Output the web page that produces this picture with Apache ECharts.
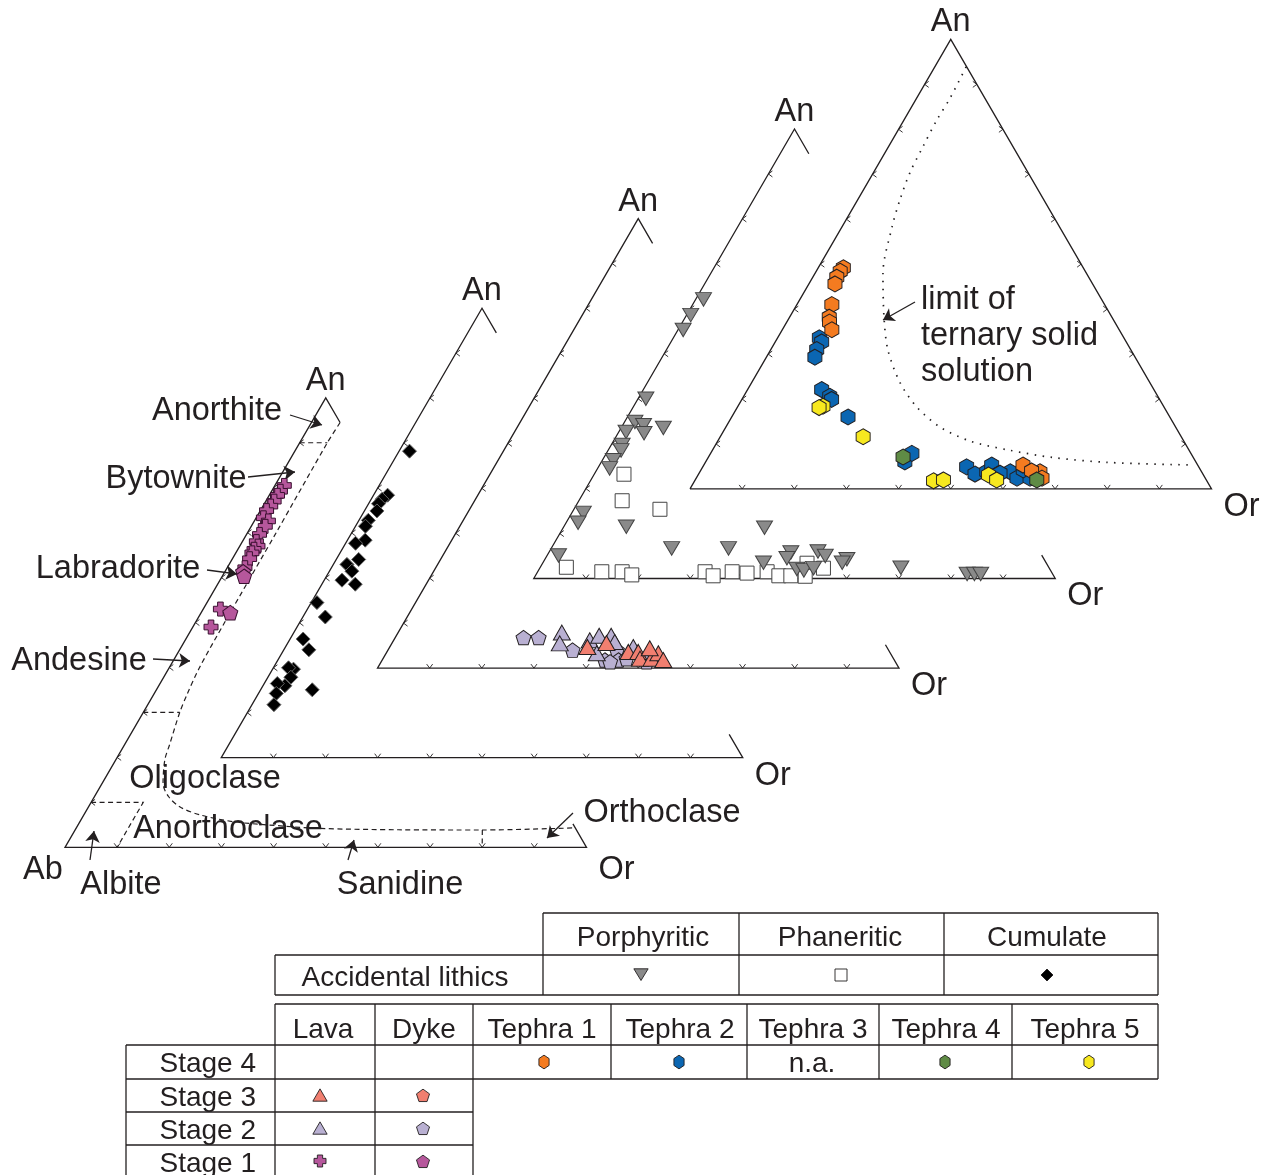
<!DOCTYPE html>
<html><head><meta charset="utf-8">
<script src="https://cdn.jsdelivr.net/npm/echarts@6/dist/echarts.min.js"></script>
<style>html,body{margin:0;padding:0;background:#fff}#c{width:1265px;height:1175px}</style>
</head><body><div id="c"></div>
<script>
// ---------- DATA: [An %, Or %] (Ab = remainder) ----------
// Triangle 1 (front): Stage 1
const stage1Lava = [[80.5,1.8],[79.2,1.7],[78.3,1.6],[77.0,1.6],[75.9,1.5],[74.9,1.2],[73.3,1.4],[72.6,2.7],[71.4,2.7],[69.6,2.5],[68.0,2.7],[67.0,3.5],[66.3,3.1],[65.5,3.1],[64.2,3.3],[62.2,3.4],[53.0,3.3],[49.0,3.5]];
const stage1Dyke = [[61.3,3.5],[60.3,4.2],[52.2,5.6]];
// Triangle 2: accidental lithics, cumulate
const cumulate = [[68.2,2.0],[58.4,2.7],[57.5,2.1],[56.5,1.9],[54.9,2.4],[52.8,1.8],[51.5,1.9],[48.4,3.4],[47.7,1.9],[44.1,4.3],[43.0,2.6],[41.5,4.3],[39.5,3.4],[38.6,6.4],[34.5,1.1],[31.3,4.3],[26.4,2.5],[24.0,4.8],[19.7,4.0],[20.0,2.9],[17.9,4.4],[16.0,4.2],[16.5,2.5],[14.3,3.4],[11.8,4.2],[15.1,9.9]];
// Triangle 3: Stage 2 and Stage 3
const stage2Lava = [[7.9,31.4],[5.5,32.2],[6.2,37.6],[7.2,38.9],[7.2,41.2],[3.3,40.4],[5.8,42.6],[4.7,46.7]];
const stage2Dyke = [[6.8,24.6],[6.8,27.5],[4.0,35.4],[1.8,42.7],[4.0,43.9],[1.8,45.3],[1.4,43.9],[1.4,50.9],[2.1,46.7]];
const stage3Lava = [[4.7,37.9],[5.6,41.1],[3.6,46.3],[3.6,48.2],[2.1,49.3],[2.1,51.5],[3.3,52.2],[1.8,53.9],[4.4,50.0]];
// Triangle 4: accidental lithics, porphyritic and phaneritic
const porphyritic = [[62.1,1.5],[58.6,0.8],[55.3,1.0],[40.0,1.5],[34.8,2.0],[34.1,4.0],[33.5,8.1],[32.6,1.4],[32.3,5.0],[29.7,2.1],[28.5,2.5],[26.3,2.1],[24.5,2.3],[14.6,2.2],[12.4,2.3],[11.5,12.0],[6.7,23.1],[6.7,34.0],[11.3,38.6],[5.1,2.2],[3.5,42.3],[5.8,46.4],[4.5,46.3],[6.0,51.5],[5.0,53.4],[4.3,57.9],[3.5,57.4],[2.1,49.4],[1.8,50.9],[2.3,52.5],[2.4,69.2],[1.0,82.6],[1.0,84.0],[1.0,85.2]];
const phaneritic = [[23.2,5.7],[17.3,8.3],[15.4,16.5],[2.5,5.0],[1.5,12.3],[1.5,16.2],[0.8,18.4],[1.5,32.1],[0.6,34.1],[1.5,37.3],[1.2,40.3],[1.5,44.0],[0.6,46.7],[0.6,49.0],[3.4,50.7],[2.3,54.4],[0.5,51.8]];
// Triangle 5: Stage 4 tephras
const tephra1 = [[49.2,4.8],[48.4,4.6],[47.1,4.6],[45.6,5.0],[41.0,6.7],[38.2,7.6],[37.1,8.2],[35.4,9.5],[5.3,61.2],[3.8,65.2],[2.4,66.3],[4.0,63.5]];
const tephra2 = [[33.6,8.0],[32.7,8.9],[31.0,8.8],[29.3,9.3],[22.1,14.2],[20.6,16.5],[19.9,17.2],[16.0,22.3],[6.0,38.2],[7.9,38.6],[4.9,50.6],[3.3,53.0],[3.8,55.0],[5.3,55.2],[3.3,57.4],[3.8,59.5],[2.4,61.5],[2.4,64.0],[4.2,61.8],[3.5,57.7]];
const tephra4 = [[7.1,37.3],[2.0,65.5]];
const tephra5 = [[18.4,16.3],[18.1,15.7],[11.6,27.4],[1.8,45.8],[2.0,47.6],[3.1,55.7],[2.0,57.8]];
// Field boundaries
const feldsparBoundaryAn = [94.5,90,70,50,40,34,30,23,19.5,14.2,11.3,9.0,7.2,5.7,5.0,4.2,3.9,3.85,4.3];
const feldsparBoundaryOr = [5.5,5.3,5.5,5.6,5.8,6.4,7.0,8.6,9.4,11.7,14.2,17.5,22.3,29.4,36.2,46.8,62,78,95.1];
const solvusAn = [93.9,87.0,82.1,76.1,70.3,64.3,58.3,48.0,38.2,30.9,23.6,18.2,13.8,10.6,8.6,7.0,5.9,5.3];
const solvusOr = [6.0,6.4,6.3,6.6,7.0,8.1,9.6,13.0,18.1,22.5,28.5,34.4,41.0,48.5,57,66,77,94.0];
const tickValues = [10,20,30,40,50,60,70,80,90];

// ---------- LAYOUT ----------
const L = 521.5, H = 449.5, X0 = 65, Y0 = 847.3, DX = 156.25, DY = 89.6;
function pt(k, an, or) { return [X0 + DX*k + L*(or + an/2)/100, Y0 - DY*k - H*an/100]; }
const INK = '#231f20';
const FONT = '"Liberation Sans", Arial, Helvetica, sans-serif';
const TY = 3; // text vertical nudge

const HEX = 'path://M0,-10L8.66,-5L8.66,5L0,10L-8.66,5L-8.66,-5Z';
const PENT = 'path://M0,-10L9.51,-3.09L5.88,8.09L-5.88,8.09L-9.51,-3.09Z';
const CROSS = 'path://M-4,-10L4,-10L4,-4L10,-4L10,4L4,4L4,10L-4,10L-4,4L-10,4L-10,-4L-4,-4Z';
const TRIUP = 'path://M0,-10L8.66,5L-8.66,5Z';
const TRIDN = 'path://M-8.66,-5L8.66,-5L0,10Z';

const C = {purple:'#b6579c', lav:'#b9b0d2', salmon:'#f17f70', gray:'#8a8a8a', orange:'#f47b20', blue:'#0b66b2', green:'#5f8b45', yellow:'#f7e81f'};

// outlines
const outlines = [];
for (let k = 0; k < 4; k++) outlines.push({coords:[pt(k,5.2,94.8), pt(k,0,100), pt(k,0,0), pt(k,100,0), pt(k,94.5,5.5)]});
outlines.push({coords:[pt(4,0,0), pt(4,0,100), pt(4,100,0), pt(4,0,0)]});

// ticks
const ticks = [];
for (let k = 0; k < 5; k++) {
  tickValues.forEach(v => {
    const a = pt(k, v, 0); ticks.push({coords:[[a[0]+4,a[1]-3],a,[a[0]+4,a[1]+3]]});
    const b = pt(k, 0, v); ticks.push({coords:[[b[0]-3,b[1]-4],b,[b[0]+3,b[1]-4]]});
    if (k === 4) { const c = pt(k, v, 100-v); ticks.push({coords:[[c[0]-4,c[1]-3],c,[c[0]-4,c[1]+3]]}); }
  });
}
// dashed field lines in triangle 1
const dashSegs = [
  {coords:[pt(0,90,0), pt(0,90,5.3)]},
  {coords:[pt(0,30,0), pt(0,30,7.0)]},
  {coords:[pt(0,10,0), pt(0,10,10), pt(0,0,10)]},
  {coords:[pt(0,3.85,78.1), pt(0,0,80)]}
];
const arrows = [
  [[290,415],[322,425]], [[248,477],[295,472]], [[207,570],[237,574]], [[153,659],[190,661]],
  [[90,860],[94,831]], [[348,860],[354,840]], [[573,813],[547,838]], [[915,302],[883,320]]
].map(c => ({coords:c}));

function sc(data, k, symbol, size, color, border, z) {
  return {type:'scatter', data: data.map(d => pt(k, d[0], d[1])), symbol, symbolSize:size, silent:true, z: z||5,
    itemStyle:{color, borderColor: border||INK, borderWidth:1, opacity:1}};
}

const series = [
  {type:'lines', coordinateSystem:'cartesian2d', polyline:true, data:outlines, silent:true, z:2, lineStyle:{color:INK, width:1.3, opacity:1}},
  {type:'lines', coordinateSystem:'cartesian2d', polyline:true, data:ticks, silent:true, z:2, lineStyle:{color:INK, width:0.9, opacity:1}},
  {type:'lines', coordinateSystem:'cartesian2d', polyline:true, data:dashSegs, silent:true, z:2, lineStyle:{color:INK, width:1.2, type:[5,3.5], opacity:1}},
  {type:'line', data: feldsparBoundaryAn.map((a,i)=>pt(0,a,feldsparBoundaryOr[i])), smooth:0.3, showSymbol:false, silent:true, z:2, lineStyle:{color:INK, width:1.2, type:[5,3.5]}},
  {type:'line', data: solvusAn.map((a,i)=>pt(4,a,solvusOr[i])), smooth:0.3, showSymbol:false, silent:true, z:2, lineStyle:{color:INK, width:1.7, type:[1.5,6.5]}},
  {type:'lines', coordinateSystem:'cartesian2d', data:arrows, silent:true, z:3, symbol:['none','arrow'], symbolSize:[9,11], lineStyle:{color:INK, width:1.3, opacity:1}},
  sc(stage1Lava, 0, CROSS, 14, C.purple, '#3a1030'),
  sc(stage1Dyke, 0, PENT, [15,14.5], C.purple, '#3a1030'),
  sc(cumulate, 1, 'diamond', 14, '#000', '#666'),
  sc(stage2Dyke, 2, PENT, [15,14.5], C.lav),
  sc(stage2Lava, 2, TRIUP, [17,15], C.lav),
  sc(stage3Lava, 2, TRIUP, [17,15], C.salmon, INK, 6),
  sc(phaneritic, 3, 'rect', 14, '#fff', '#444'),
  sc(porphyritic, 3, TRIDN, [16,13.5], C.gray, '#444', 6),
  sc(tephra2, 4, HEX, [14,16], C.blue),
  sc(tephra1, 4, HEX, [14,16], C.orange),
  sc(tephra5, 4, HEX, [14,16], C.yellow),
  sc(tephra4, 4, HEX, [14,16], C.green),
];

// ---------- TEXT & TABLE (graphic) ----------
const G = [];
function txt(t, x, y, size, align) {
  G.push({type:'text', x, y: y + TY, z:10, style:{text:t, fill:INK, fontSize:size, fontFamily:FONT,
    textAlign:align||'center', align:align||'center', textVerticalAlign:'middle', verticalAlign:'middle'}});
}
for (let k = 0; k < 5; k++) {
  const a = pt(k,100,0), o = pt(k,0,100);
  txt('An', a[0], a[1]-20, 32.5);
  txt('Or', o[0]+30, o[1]+(k===0?20:15), 32.5);
}
txt('Ab', 43, 867, 32.5);
txt('Anorthite', 217, 408, 32.5); txt('Bytownite', 176, 476, 32.5); txt('Labradorite', 118, 566, 32.5);
txt('Andesine', 79, 658, 32.5); txt('Oligoclase', 205, 776, 32.5); txt('Anorthoclase', 228, 826, 32.5);
txt('Albite', 121, 882, 32.5); txt('Sanidine', 400, 882, 32.5); txt('Orthoclase', 662, 810, 32.5);
txt('limit of', 921, 297, 32.5, 'left'); txt('ternary solid', 921, 333, 32.5, 'left'); txt('solution', 921, 369, 32.5, 'left');

function hl(x1, x2, y) { G.push({type:'line', z:10, shape:{x1, y1:y, x2, y2:y}, style:{stroke:INK, lineWidth:1.3}}); }
function vl(x, y1, y2) { G.push({type:'line', z:10, shape:{x1:x, y1, x2:x, y2}, style:{stroke:INK, lineWidth:1.3}}); }
// top table
hl(543,1158,913); hl(275,1158,955); hl(275,1158,995);
vl(275,955,995); vl(543,913,995); vl(739,913,995); vl(944,913,995); vl(1158,913,995);
txt('Porphyritic', 643, 935, 28); txt('Phaneritic', 840, 935, 28); txt('Cumulate', 1047, 935, 28);
txt('Accidental lithics', 405, 975, 28);
// bottom table
hl(275,1158,1004); hl(126,1158,1045); hl(126,1158,1079); hl(126,473,1112); hl(126,473,1145);
vl(126,1045,1180); vl(275,1004,1180); vl(375,1004,1180); vl(473,1004,1180);
[611,747,879,1012,1158].forEach(x => vl(x,1004,1079));
[['Lava',323],['Dyke',424],['Tephra 1',542],['Tephra 2',680],['Tephra 3',813],['Tephra 4',946],['Tephra 5',1085]].forEach(h => txt(h[0], h[1], 1027, 28));
[['Stage 4',1061],['Stage 3',1095],['Stage 2',1128],['Stage 1',1161]].forEach(s => txt(s[0], 256, s[1], 28, 'right'));
txt('n.a.', 812, 1061, 28);

function shape(kind, cx, cy, s) {
  let pts = [];
  const ring = (n, start, rx, ry) => { for (let i = 0; i < n; i++) { const t = (start + 360*i/n) * Math.PI/180; pts.push([cx + rx*Math.cos(t), cy + ry*Math.sin(t)]); } };
  if (kind === 'hex') ring(6, -90, s*0.47, s*0.55);
  else if (kind === 'pent') ring(5, -90, s*0.55, s*0.55);
  else if (kind === 'triup') pts = [[cx, cy-s*0.55],[cx+s*0.55, cy+s*0.4],[cx-s*0.55, cy+s*0.4]];
  else if (kind === 'tridn') pts = [[cx-s*0.55, cy-s*0.4],[cx+s*0.55, cy-s*0.4],[cx, cy+s*0.5]];
  else if (kind === 'diamond') pts = [[cx, cy-s/2],[cx+s/2, cy],[cx, cy+s/2],[cx-s/2, cy]];
  else if (kind === 'square') pts = [[cx-s/2,cy-s/2],[cx+s/2,cy-s/2],[cx+s/2,cy+s/2],[cx-s/2,cy+s/2]];
  else if (kind === 'cross') { const a = s*0.22, b = s*0.5;
    pts = [[-a,-b],[a,-b],[a,-a],[b,-a],[b,a],[a,a],[a,b],[-a,b],[-a,a],[-b,a],[-b,-a],[-a,-a]].map(p => [cx+p[0], cy+p[1]]); }
  return pts;
}
function sym(kind, cx, cy, s, fill) { G.push({type:'polygon', z:10, shape:{points: shape(kind,cx,cy,s)}, style:{fill, stroke:INK, lineWidth:0.9}}); }
sym('tridn', 641, 974, 13, C.gray); sym('square', 841, 975, 12, '#fff'); sym('diamond', 1047, 975, 12, '#000');
sym('hex', 544, 1062, 12.5, C.orange); sym('hex', 679, 1062, 12.5, C.blue); sym('hex', 945, 1062, 12.5, C.green); sym('hex', 1089, 1062, 12.5, C.yellow);
sym('triup', 320, 1096, 13, C.salmon); sym('pent', 423, 1096, 12.5, C.salmon);
sym('triup', 320, 1129, 13, C.lav); sym('pent', 423, 1129, 12.5, C.lav);
sym('cross', 320, 1161, 12, C.purple); sym('pent', 423, 1162, 12.5, C.purple);

const chart = echarts.init(document.getElementById('c'), null, {renderer:'canvas'});
chart.setOption({
  animation:false,
  backgroundColor:'#fff',
  grid:{left:0, top:0, width:1265, height:1175, containLabel:false},
  xAxis:{type:'value', min:0, max:1265, show:false},
  yAxis:{type:'value', min:0, max:1175, inverse:true, show:false},
  series,
  graphic:{elements:G}
});
</script></body></html>
